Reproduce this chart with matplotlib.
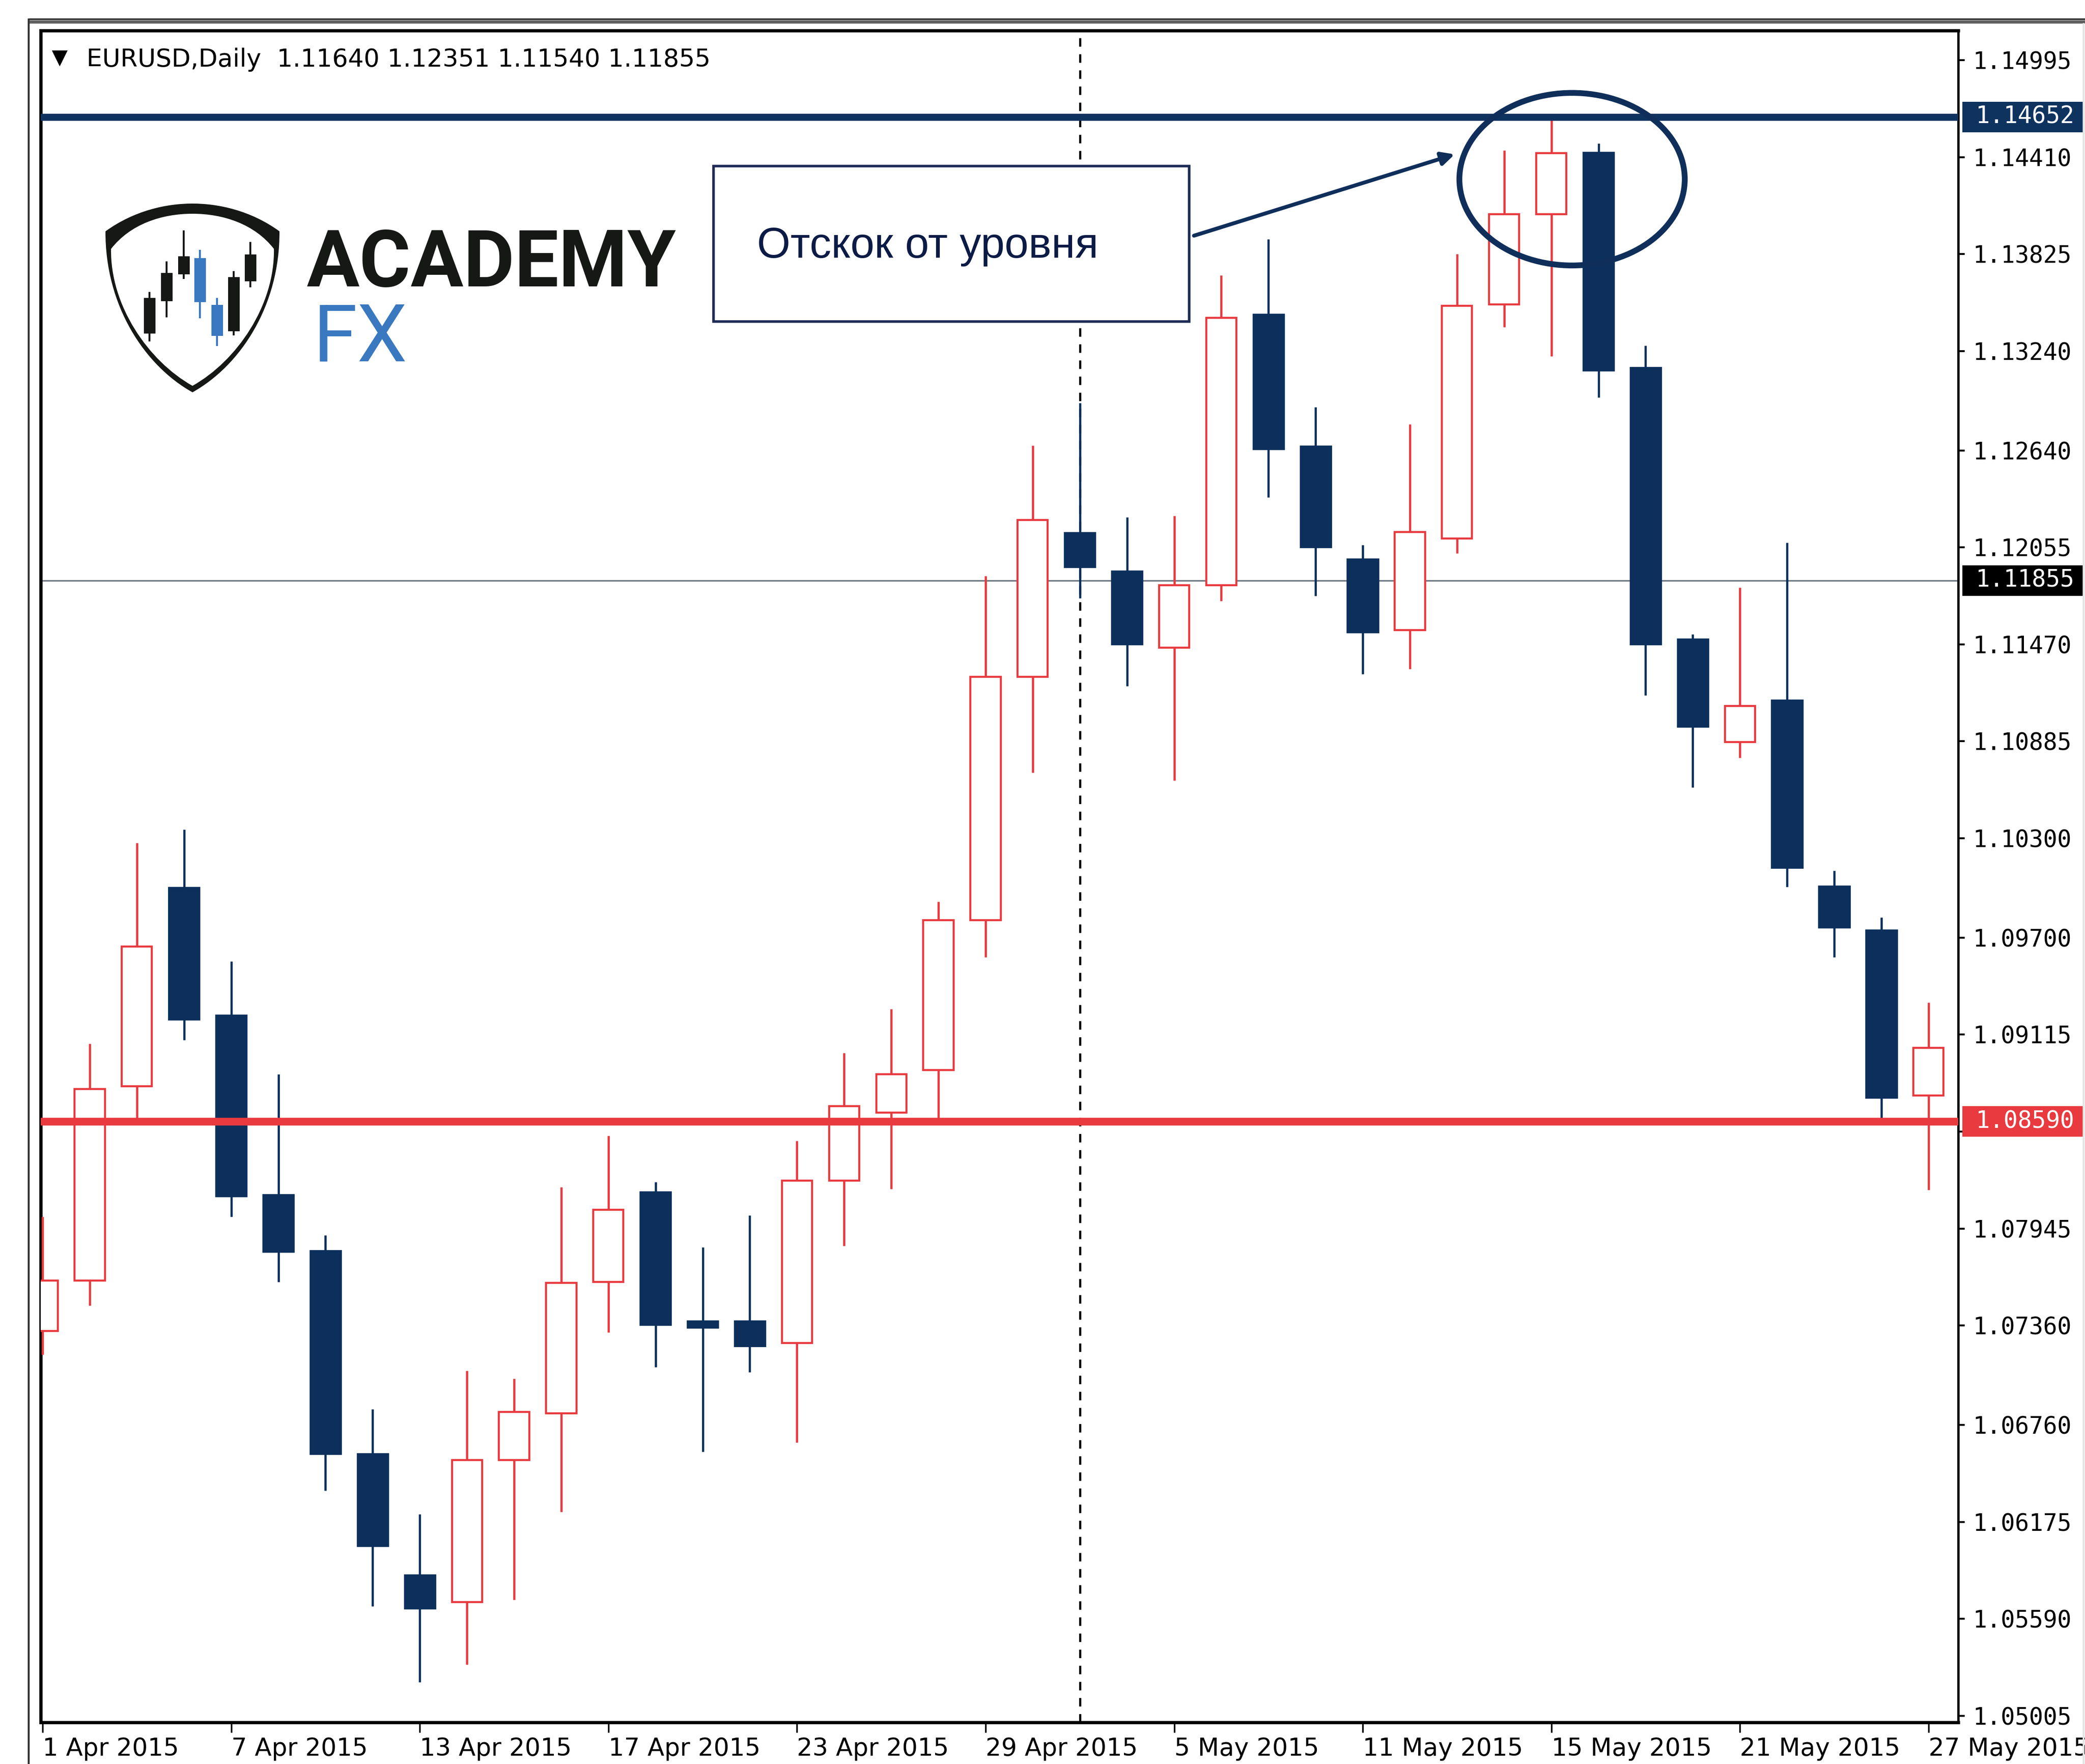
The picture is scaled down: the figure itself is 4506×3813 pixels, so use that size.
import matplotlib
matplotlib.use("Agg")
import matplotlib.pyplot as plt
from matplotlib import font_manager
from matplotlib.font_manager import FontProperties
from matplotlib.patches import Rectangle, Ellipse, PathPatch
from matplotlib.path import Path
from matplotlib.textpath import TextPath
from matplotlib.transforms import blended_transform_factory

W, H, DPI = 4506, 3813, 100

# EURUSD daily bars, 1 Apr - 27 May 2015
days = ["1 Apr", "2 Apr", "3 Apr", "6 Apr", "7 Apr", "8 Apr", "9 Apr", "10 Apr",
        "13 Apr", "14 Apr", "15 Apr", "16 Apr", "17 Apr", "20 Apr", "21 Apr",
        "22 Apr", "23 Apr", "24 Apr", "27 Apr", "28 Apr", "29 Apr", "30 Apr",
        "1 May", "4 May", "5 May", "6 May", "7 May", "8 May", "11 May", "12 May",
        "13 May", "14 May", "15 May", "18 May", "19 May", "20 May", "21 May",
        "22 May", "25 May", "26 May", "27 May"]
opens = [1.07327, 1.07632, 1.08803, 1.10007, 1.09236, 1.08153, 1.07816, 1.06589,
         1.05859, 1.05690, 1.06549, 1.06830, 1.07624, 1.08169, 1.07391, 1.07391,
         1.07255, 1.08234, 1.08643, 1.08900, 1.09806, 1.11274, 1.12149, 1.11916,
         1.11451, 1.11828, 1.13465, 1.12670, 1.11988, 1.11555, 1.12109, 1.13521,
         1.14066, 1.14443, 1.13144, 1.11507, 1.10881, 1.11138, 1.10015, 1.09750,
         1.08747]
highs = [1.08017, 1.09060, 1.10271, 1.10352, 1.09557, 1.08875, 1.07905, 1.06854,
         1.06220, 1.07086, 1.07038, 1.08194, 1.08506, 1.08226, 1.07832, 1.08025,
         1.08474, 1.09004, 1.09269, 1.09918, 1.11884, 1.12670, 1.12927, 1.12237,
         1.12245, 1.13697, 1.13914, 1.12903, 1.12069, 1.12799, 1.13826, 1.14451,
         1.14636, 1.14492, 1.13272, 1.11531, 1.11812, 1.12085, 1.10103, 1.09822,
         1.09309]
lows = [1.07183, 1.07479, 1.08595, 1.09084, 1.08017, 1.07624, 1.06364, 1.05666,
        1.05209, 1.05313, 1.05706, 1.06236, 1.07319, 1.07110, 1.06597, 1.07078,
        1.06653, 1.07840, 1.08185, 1.08595, 1.09581, 1.10697, 1.11748, 1.11218,
        1.10649, 1.11732, 1.12357, 1.11764, 1.11290, 1.11322, 1.12020, 1.13384,
        1.13208, 1.12959, 1.11162, 1.10608, 1.10785, 1.10007, 1.09581, 1.08611,
        1.08177]
closes = [1.07632, 1.08787, 1.09646, 1.09204, 1.08137, 1.07800, 1.06581, 1.06027,
          1.05650, 1.06549, 1.06838, 1.07616, 1.08057, 1.07359, 1.07343, 1.07231,
          1.08234, 1.08683, 1.08875, 1.09806, 1.11274, 1.12221, 1.11932, 1.11467,
          1.11828, 1.13441, 1.12646, 1.12053, 1.11539, 1.12149, 1.13513, 1.14066,
          1.14435, 1.13120, 1.11467, 1.10969, 1.11098, 1.10119, 1.09758, 1.08731,
          1.09036]

price_ticks = [1.14995, 1.14410, 1.13825, 1.13240, 1.12640, 1.12055, 1.11470,
               1.10885, 1.10300, 1.09700, 1.09115, 1.08530, 1.07945, 1.07360,
               1.06760, 1.06175, 1.05590, 1.05005]
level_top = 1.14652
level_bottom = 1.08590
last_price = 1.11855
cursor_bar = 22
header = "EURUSD,Daily  1.11640 1.12351 1.11540 1.11855"
note = "Отскок от уровня"

# logo candles: centre x, body top, body bottom, wick top, wick bottom (pixels)
logo_candles = [(323, 644, 721, 631, 738, "k"), (360, 590, 651, 565, 686, "k"),
                (397, 554, 593, 498, 603, "k"), (432, 558, 653, 540, 688, "b"),
                (469, 659, 726, 644, 748, "b"), (505, 599, 716, 586, 725, "k"),
                (541, 550, 608, 523, 621, "k")]

NAVY = "#0c2f5b"
RED = "#e83a3f"
LOGO_BLACK = "#161816"
LOGO_BLUE = "#3a78c0"

avail = {f.name for f in font_manager.fontManager.ttflist}


def pick(*names):
    for n in names:
        if n in avail:
            return n
    return "DejaVu Sans"


def fit_size(text, family, px, weight="normal"):
    tp = TextPath((0, 0), text, size=100, prop=FontProperties(family=family, weight=weight))
    return 100 * px * 72 / DPI / tp.get_extents().width


narrow = pick("Liberation Sans Narrow", "DejaVu Sans")
mono = "DejaVu Sans Mono"
sans = pick("Liberation Sans", "DejaVu Sans")
logo_font = pick("Roboto", "Liberation Sans", "DejaVu Sans")

fig = plt.figure(figsize=(W / DPI, H / DPI), dpi=DPI)
L, R, T, B = 88, 4232, 66, 3723
ax = fig.add_axes([L / W, 1 - B / H, (R - L) / W, (B - T) / H])
xlim = (-0.04, 40.63)
ylim = (1.04965, 1.15174)

# candles
for i, (o, h, l, c) in enumerate(zip(opens, highs, lows, closes)):
    up = c >= o
    col = RED if up else NAVY
    ax.plot([i, i], [l, h], color=col, lw=3.4, solid_capstyle="butt", zorder=3)
    lo, hi = min(o, c), max(o, c)
    if up:
        ax.add_patch(Rectangle((i - 0.32, lo), 0.64, hi - lo, facecolor="white",
                               edgecolor=RED, lw=3.2, zorder=4))
    else:
        ax.add_patch(Rectangle((i - 0.34, lo), 0.68, hi - lo, facecolor=NAVY,
                               edgecolor=NAVY, lw=0.5, zorder=4))

ax.axhline(last_price, color="#6e7781", lw=2.4, zorder=1)
ax.axvline(cursor_bar, color="black", lw=3.3, ls=(0, (4, 3.6)), zorder=2)
ax.axhline(level_top, color="#0f335f", lw=11, zorder=5)
ax.axhline(level_bottom, color=RED, lw=12, zorder=5)

# annotation
ax.add_patch(Ellipse((32.44, 1.14277), 4.78, 0.010414, fill=False,
                     edgecolor="#0f2f5a", lw=9, zorder=6))
ax.annotate("", xy=(29.95, 1.14427), xytext=(24.42, 1.13936),
            arrowprops=dict(arrowstyle="-|>", color="#0f2f5a", lw=6,
                            mutation_scale=42, shrinkA=0, shrinkB=0), zorder=6)
ax.add_patch(Rectangle((14.23, 1.13417), 10.09, 0.0094, facecolor="white",
                       edgecolor="#1d2a55", lw=4, zorder=6))
ax.text(15.15, 1.13802, note, fontsize=fit_size(note, sans, 727), family=sans,
        color="#0b1b45", va="baseline", ha="left", zorder=7)

# axes and ticks; the tick under the red tag keeps its mark only
ysz = fit_size("1.14995", mono, 204)
xsz = fit_size("13 Apr 2015", narrow, 318)
ax.yaxis.tick_right()
ax.set_yticks(price_ticks)
ax.set_yticklabels(["" if abs(v - level_bottom) < 0.001 else f"{v:.5f}" for v in price_ticks],
                   fontfamily=mono, fontsize=ysz)
ax.tick_params(axis="y", direction="out", length=10, width=3, pad=13)
xt = list(range(0, len(days), 4))
ax.set_xticks(xt)
ax.set_xticklabels([days[i] + " 2015" for i in xt], fontfamily=narrow, fontsize=xsz)
for lbl in ax.get_xticklabels():
    lbl.set_ha("left")
ax.tick_params(axis="x", direction="out", length=16, width=2.5, pad=6)
for name, sp in ax.spines.items():
    sp.set_color("black")
    sp.set_linewidth(3.6 if name == "right" else 5)

# price tags on the scale
trans = blended_transform_factory(fig.transFigure, ax.transData)
hh = 66 * (ylim[1] - ylim[0]) / (B - T)
for price, face in [(level_top, "#0f335f"), (last_price, "black"), (level_bottom, RED)]:
    ax.add_patch(Rectangle((4241 / W, price - hh / 2), (4502 - 4241) / W, hh,
                           transform=trans, facecolor=face, edgecolor="none",
                           clip_on=False, zorder=10))
    ax.text(4270 / W, price, f"{price:.5f}", transform=trans, color="white",
            fontfamily=mono, fontsize=ysz, va="center", ha="left", zorder=11,
            clip_on=False)

ax.set_xlim(*xlim)
ax.set_ylim(*ylim)

# overlay in pixel coordinates: window frame, header, logo
ov = fig.add_axes([0, 0, 1, 1])
ov.set_xlim(0, W)
ov.set_ylim(H, 0)
ov.axis("off")
ov.plot([62, W], [41, 41], color="#262626", lw=2.5, solid_capstyle="butt")
ov.plot([62, W], [47, 47], color="#606060", lw=5, solid_capstyle="butt")
ov.plot([62, 62], [40, H], color="#333333", lw=3, solid_capstyle="butt")
ov.plot([W - 3, W - 3], [50, H], color="#e4e4e4", lw=3, solid_capstyle="butt")

ov.text(112, 138, "▼", family="DejaVu Sans", fontsize=fit_size("▼", "DejaVu Sans", 34),
        va="baseline", ha="left", color="black")
ov.text(187, 144, header, family=narrow, fontsize=fit_size(header, narrow, 1341),
        va="baseline", ha="left", color="black")

C4 = Path.CURVE4
outer = Path([(228, 500), (290, 455), (360, 440), (416, 440), (472, 440), (542, 455),
              (604, 500), (605, 660), (520, 790), (416, 848), (312, 790), (227, 660),
              (228, 500), (228, 500)],
             [Path.MOVETO] + [C4] * 12 + [Path.CLOSEPOLY])
inner = Path([(240, 538), (282, 484), (350, 462), (416, 462), (482, 462), (550, 484),
              (592, 538), (594, 660), (512, 780), (416, 834), (320, 780), (238, 660),
              (240, 538), (240, 538)],
             [Path.MOVETO] + [C4] * 12 + [Path.CLOSEPOLY])
ov.add_patch(PathPatch(outer, facecolor=LOGO_BLACK, edgecolor="none"))
ov.add_patch(PathPatch(inner, facecolor="white", edgecolor="none"))
for cx, bt, bb, wt, wb, kind in logo_candles:
    col = LOGO_BLUE if kind == "b" else LOGO_BLACK
    ov.plot([cx, cx], [wt, wb], color=col, lw=3, solid_capstyle="butt")
    ov.add_patch(Rectangle((cx - 12.5, bt), 25, bb - bt, facecolor=col, edgecolor="none"))

ov.text(662, 619, "ACADEMY", family=logo_font, fontweight="bold",
        fontsize=fit_size("ACADEMY", logo_font, 798, "bold"),
        color=LOGO_BLACK, va="baseline", ha="left")
ov.text(677, 780, "FX", family=logo_font, fontweight="normal",
        fontsize=fit_size("FX", logo_font, 185),
        color=LOGO_BLUE, va="baseline", ha="left")

fig.savefig("out.png", dpi=DPI)
